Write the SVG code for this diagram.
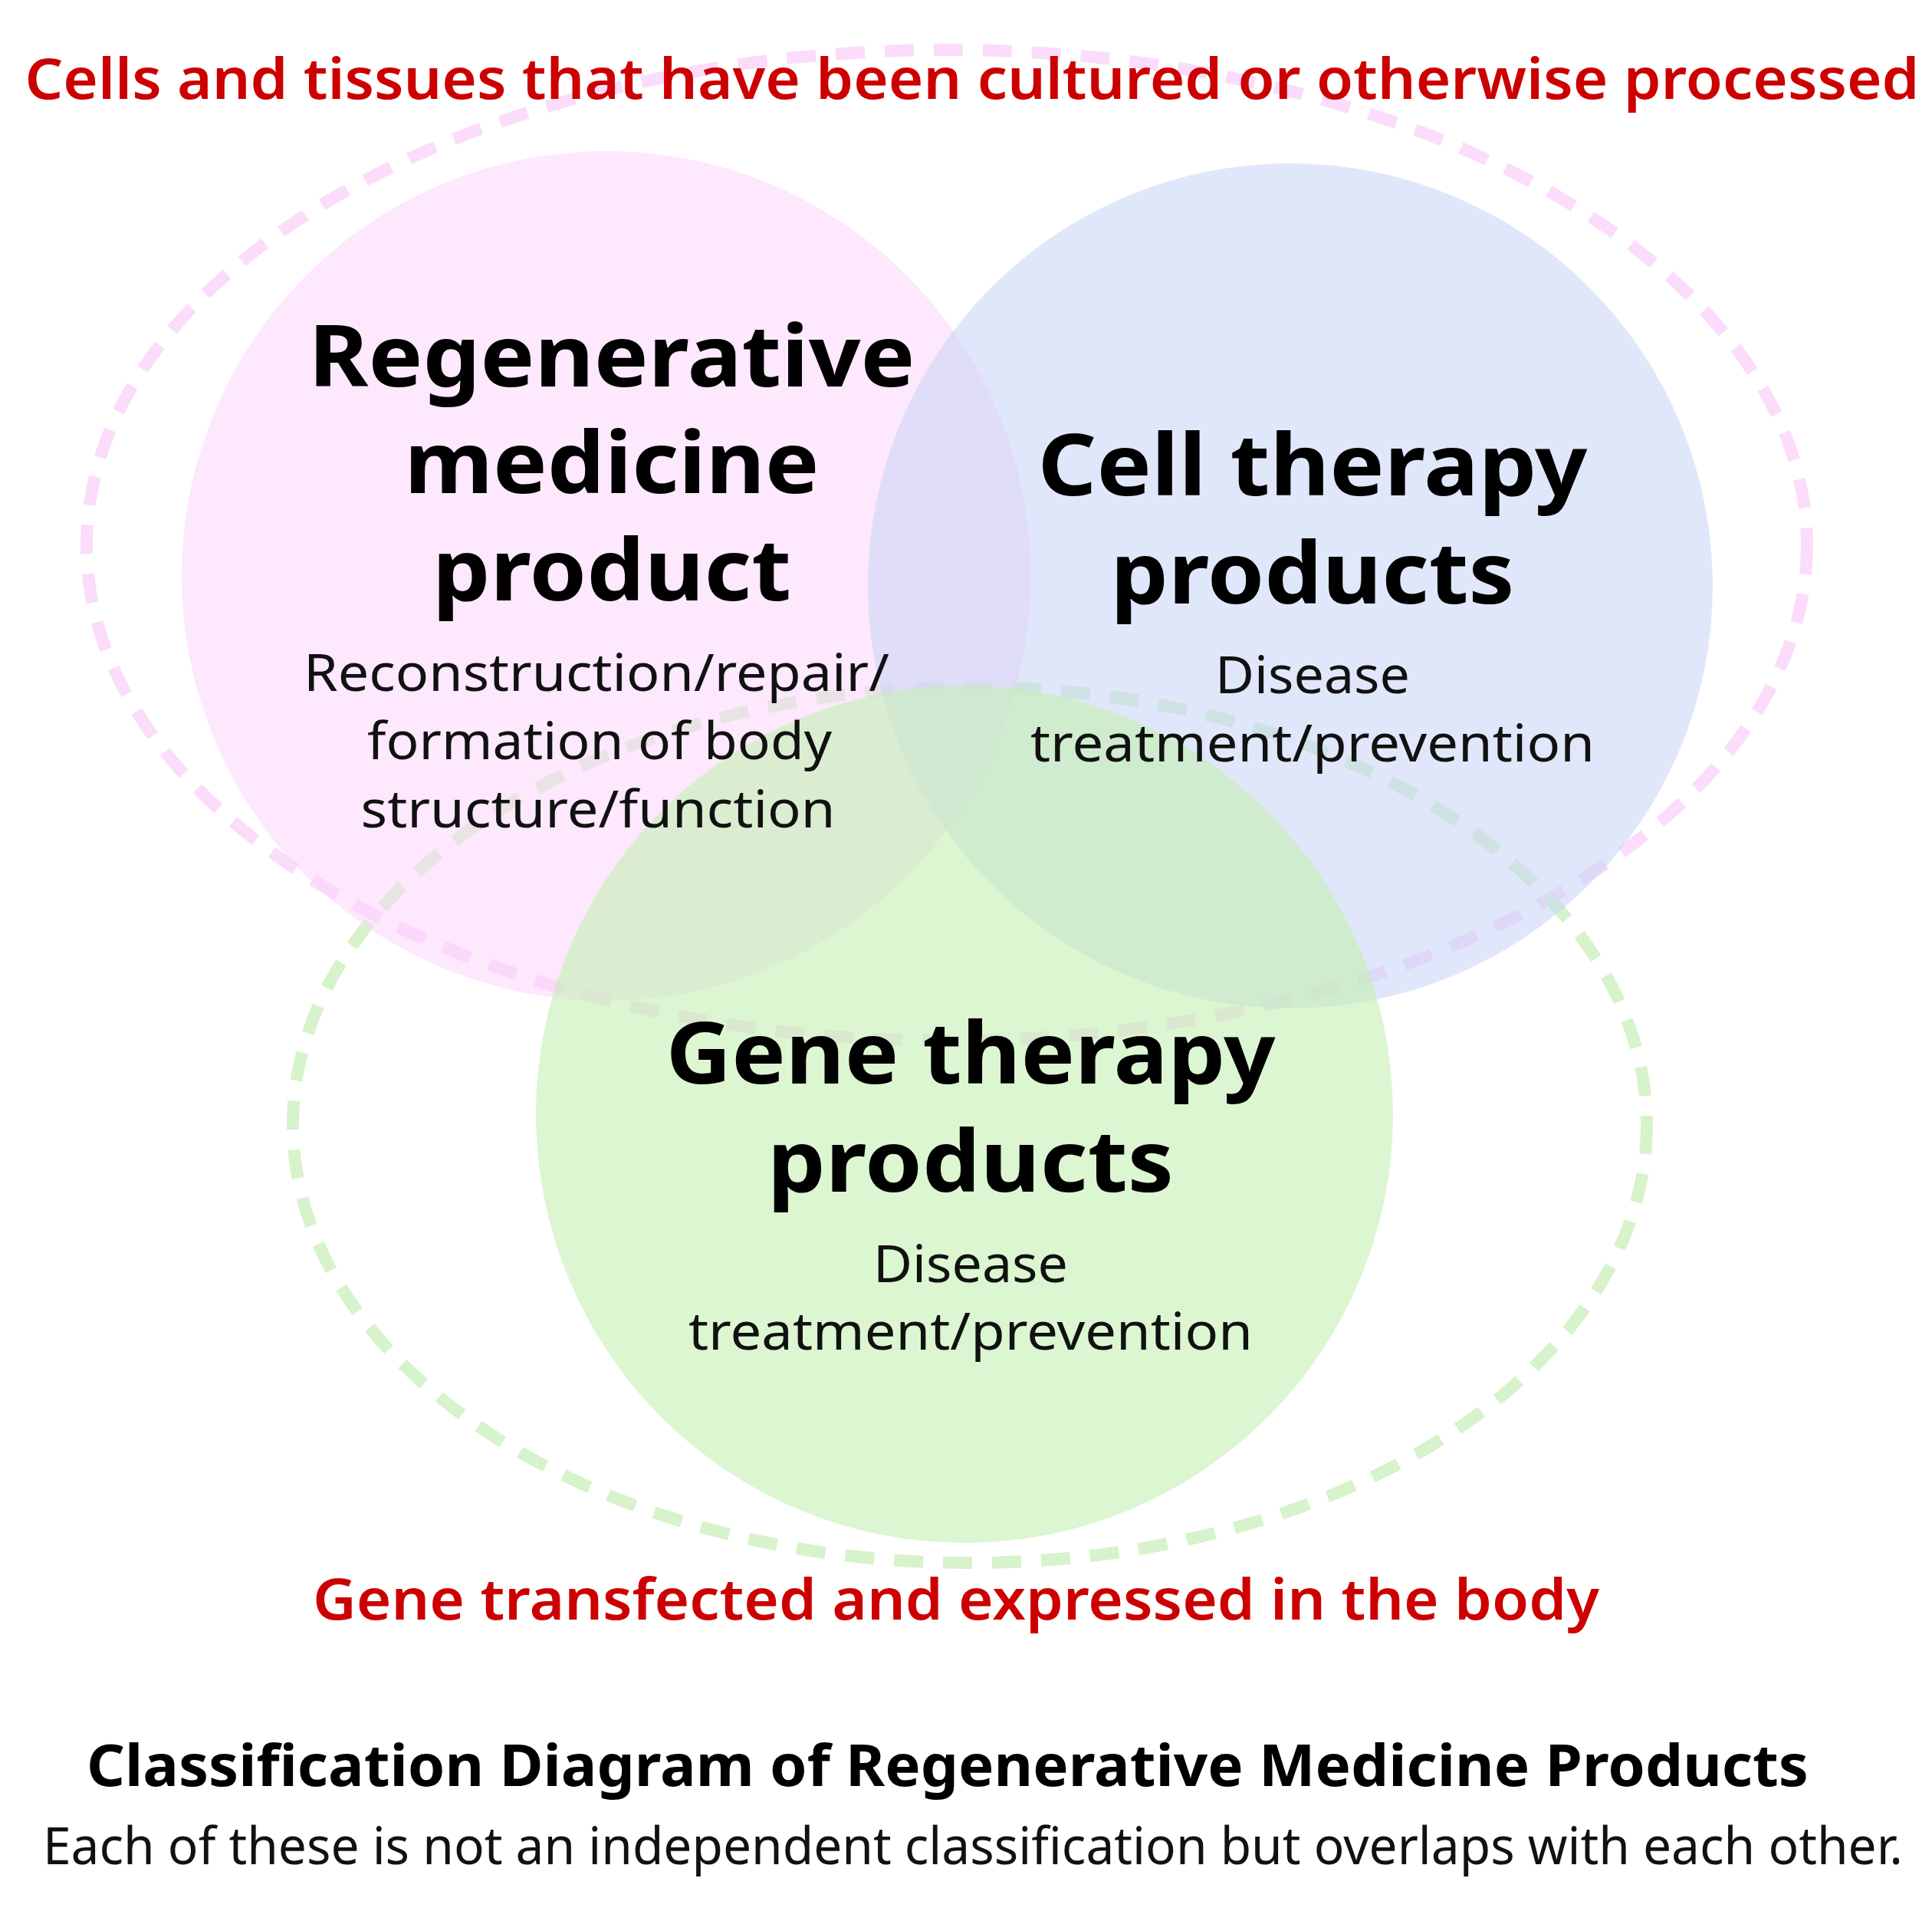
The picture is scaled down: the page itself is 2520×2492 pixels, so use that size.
<svg xmlns="http://www.w3.org/2000/svg" width="2520" height="2492" viewBox="0 0 2520 2492">
<style>
.t{font-family:"Noto Sans","Open Sans",sans-serif;text-anchor:middle}
.red{fill:#cc0000;font-size:74px;font-weight:600}
.big{font-weight:bold;font-size:112px;fill:#000}
.sm{font-size:68px;fill:#111}
.dash{fill:none;stroke-width:16;stroke-dasharray:38 26}
</style>
<rect width="2520" height="2492" fill="#fff"/>
<g id="connectors">
<ellipse class="dash" cx="1235" cy="711" rx="1122" ry="646" stroke="#fbdcfb"/>
<ellipse class="dash" cx="1265" cy="1467" rx="883" ry="571" stroke="#d6f3cc"/>
</g>
<g id="regen"><circle cx="791" cy="751" r="554" fill="#fbd6fb" fill-opacity="0.55"/></g>
<g id="cell"><circle cx="1683" cy="764" r="551" fill="#c9d4f5" fill-opacity="0.55"/></g>
<g id="gene"><circle cx="1258" cy="1453" r="559" fill="#c4f0b2" fill-opacity="0.6"/></g>
<g id="labels">
<text class="t red" x="1268" y="129" textLength="2471" lengthAdjust="spacingAndGlyphs">Cells and tissues that have been cultured or otherwise processed</text>
<text class="t big" x="798" y="504" textLength="791" lengthAdjust="spacingAndGlyphs">Regenerative</text>
<text class="t big" x="798" y="643" textLength="541" lengthAdjust="spacingAndGlyphs">medicine</text>
<text class="t big" x="798" y="783" textLength="468" lengthAdjust="spacingAndGlyphs">product</text>
<text class="t sm" x="778" y="901" textLength="764" lengthAdjust="spacingAndGlyphs">Reconstruction/repair/</text>
<text class="t sm" x="782" y="990" textLength="606" lengthAdjust="spacingAndGlyphs">formation of body</text>
<text class="t sm" x="780" y="1079" textLength="619" lengthAdjust="spacingAndGlyphs">structure/function</text>
<text class="t big" x="1712" y="646" textLength="717" lengthAdjust="spacingAndGlyphs">Cell therapy</text>
<text class="t big" x="1712" y="787" textLength="527" lengthAdjust="spacingAndGlyphs">products</text>
<text class="t sm" x="1712" y="904" textLength="254" lengthAdjust="spacingAndGlyphs">Disease</text>
<text class="t sm" x="1712" y="993" textLength="736" lengthAdjust="spacingAndGlyphs">treatment/prevention</text>
<text class="t big" x="1266" y="1413" textLength="795" lengthAdjust="spacingAndGlyphs">Gene therapy</text>
<text class="t big" x="1266" y="1554" textLength="530" lengthAdjust="spacingAndGlyphs">products</text>
<text class="t sm" x="1266" y="1672" textLength="254" lengthAdjust="spacingAndGlyphs">Disease</text>
<text class="t sm" x="1266" y="1760" textLength="736" lengthAdjust="spacingAndGlyphs">treatment/prevention</text>
<text class="t red" x="1247" y="2112" textLength="1678" lengthAdjust="spacingAndGlyphs">Gene transfected and expressed in the body</text>
<text class="t" x="1236" y="2329" font-size="76" font-weight="bold" textLength="2246" lengthAdjust="spacingAndGlyphs">Classification Diagram of Regenerative Medicine Products</text>
<text class="t" x="1269" y="2431" font-size="68" fill="#111" textLength="2426" lengthAdjust="spacingAndGlyphs">Each of these is not an independent classification but overlaps with each other.</text>
</g>
</svg>
